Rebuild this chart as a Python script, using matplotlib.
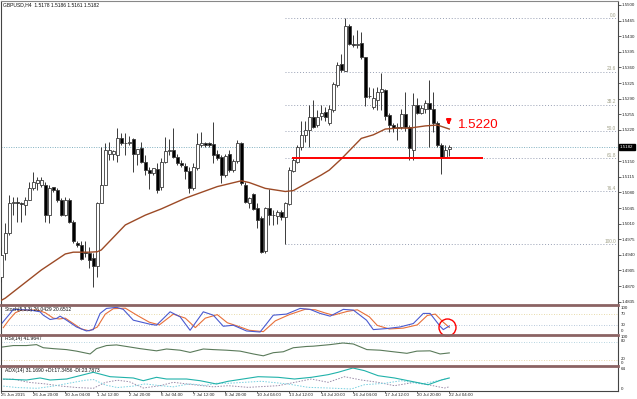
import matplotlib
matplotlib.use("Agg")
import matplotlib.pyplot as plt
from matplotlib.lines import Line2D
from matplotlib.patches import Ellipse
from matplotlib.transforms import blended_transform_factory

plt.rcParams['font.family'] = ['Liberation Sans', 'DejaVu Sans']

W, H = 637, 399

# GBPUSD H4 candles, bar 1 = 25 Jun 12:00 ... bar 113 = 22 Jul 04:00
bar_open = [1.4891, 1.4944, 1.4988, 1.5056, 1.5059, 1.5056, 1.5052, 1.5063, 1.5089, 1.5102,
            1.5097, 1.5097, 1.5029, 1.5091, 1.5085, 1.5063, 1.5029, 1.5063, 1.5014, 1.4967,
            1.4961, 1.4947, 1.4944, 1.4932, 1.4916, 1.5056, 1.5097, 1.5167, 1.5167, 1.5164,
            1.5203, 1.5190, 1.5190, 1.5199, 1.5166, 1.5180, 1.5149, 1.5130, 1.5124, 1.5132,
            1.5091, 1.5149, 1.5173, 1.5176, 1.5160, 1.5146, 1.5140, 1.5127, 1.5089, 1.5134,
            1.5187, 1.5191, 1.5191, 1.5188, 1.5165, 1.5159, 1.5119, 1.5166, 1.5130, 1.5150,
            1.5191, 1.5097, 1.5056, 1.5076, 1.5044, 1.5022, 1.4949, 1.5044, 1.5029, 1.5027,
            1.5035, 1.5024, 1.5055, 1.5129, 1.5149, 1.5182, 1.5209, 1.5220, 1.5250, 1.5231,
            1.5251, 1.5261, 1.5236, 1.5265, 1.5321, 1.5368, 1.5353, 1.5453, 1.5412, 1.5411,
            1.5414, 1.5384, 1.5297, 1.5272, 1.5288, 1.5306, 1.5309, 1.5253, 1.5231, 1.5224,
            1.5226, 1.5256, 1.5227, 1.5176, 1.5276, 1.5257, 1.5266, 1.5281, 1.5267, 1.5236,
            1.5186, 1.5160, 1.5178]
bar_high = [1.4958, 1.5011, 1.5074, 1.5070, 1.5070, 1.5059, 1.5070, 1.5104, 1.5126, 1.5115,
            1.5115, 1.5104, 1.5097, 1.5093, 1.5089, 1.5067, 1.5070, 1.5067, 1.5018, 1.4970,
            1.4970, 1.4970, 1.4958, 1.4944, 1.5059, 1.5182, 1.5190, 1.5194, 1.5175, 1.5224,
            1.5212, 1.5212, 1.5206, 1.5203, 1.5177, 1.5194, 1.5164, 1.5136, 1.5134, 1.5145,
            1.5156, 1.5205, 1.5199, 1.5224, 1.5167, 1.5153, 1.5145, 1.5138, 1.5145, 1.5212,
            1.5216, 1.5193, 1.5194, 1.5238, 1.5175, 1.5164, 1.5165, 1.5175, 1.5154, 1.5197,
            1.5194, 1.5104, 1.5070, 1.5078, 1.5056, 1.5026, 1.5047, 1.5087, 1.5041, 1.5041,
            1.5041, 1.5059, 1.5138, 1.5160, 1.5186, 1.5239, 1.5239, 1.5276, 1.5287, 1.5265,
            1.5276, 1.5272, 1.5276, 1.5328, 1.5373, 1.5391, 1.5470, 1.5457, 1.5433, 1.5444,
            1.5440, 1.5384, 1.5317, 1.5313, 1.5317, 1.5348, 1.5311, 1.5257, 1.5236, 1.5235,
            1.5266, 1.5306, 1.5231, 1.5302, 1.5291, 1.5276, 1.5288, 1.5333, 1.5306, 1.5239,
            1.5191, 1.5186, 1.5186]
bar_low = [1.4880, 1.4929, 1.4985, 1.5029, 1.5014, 1.5014, 1.5029, 1.5063, 1.5085, 1.5085,
           1.5093, 1.5014, 1.5011, 1.5080, 1.5059, 1.5026, 1.5026, 1.5011, 1.4967, 1.4958,
           1.4929, 1.4936, 1.4910, 1.4869, 1.4891, 1.5056, 1.5097, 1.5153, 1.5153, 1.5149,
           1.5187, 1.5164, 1.5187, 1.5126, 1.5141, 1.5145, 1.5119, 1.5087, 1.5119, 1.5078,
           1.5085, 1.5145, 1.5164, 1.5156, 1.5141, 1.5137, 1.5109, 1.5078, 1.5085, 1.5130,
           1.5182, 1.5182, 1.5182, 1.5145, 1.5153, 1.5100, 1.5115, 1.5126, 1.5126, 1.5145,
           1.5097, 1.5056, 1.5044, 1.5041, 1.5000, 1.4945, 1.4945, 1.5007, 1.5007, 1.5009,
           1.5018, 1.4964, 1.5052, 1.5126, 1.5146, 1.5175, 1.5194, 1.5182, 1.5224, 1.5227,
           1.5242, 1.5239, 1.5231, 1.5261, 1.5317, 1.5350, 1.5352, 1.5410, 1.5406, 1.5403,
           1.5380, 1.5274, 1.5291, 1.5266, 1.5265, 1.5265, 1.5242, 1.5216, 1.5216, 1.5197,
           1.5221, 1.5218, 1.5152, 1.5152, 1.5256, 1.5256, 1.5257, 1.5181, 1.5216, 1.5182,
           1.5121, 1.5156, 1.5161]
bar_close = [1.4940, 1.4988, 1.5056, 1.5059, 1.5056, 1.5054, 1.5063, 1.5089, 1.5104, 1.5108,
             1.5108, 1.5029, 1.5089, 1.5085, 1.5063, 1.5029, 1.5063, 1.5014, 1.4970, 1.4961,
             1.4930, 1.4944, 1.4929, 1.4916, 1.5056, 1.5097, 1.5175, 1.5175, 1.5172, 1.5203,
             1.5190, 1.5190, 1.5192, 1.5166, 1.5177, 1.5149, 1.5130, 1.5124, 1.5134, 1.5085,
             1.5149, 1.5173, 1.5175, 1.5160, 1.5145, 1.5141, 1.5128, 1.5089, 1.5138, 1.5188,
             1.5190, 1.5186, 1.5186, 1.5164, 1.5158, 1.5119, 1.5162, 1.5130, 1.5151, 1.5191,
             1.5100, 1.5059, 1.5067, 1.5042, 1.5018, 1.4947, 1.5044, 1.5029, 1.5029, 1.5035,
             1.5024, 1.5056, 1.5130, 1.5152, 1.5182, 1.5209, 1.5220, 1.5250, 1.5227, 1.5250,
             1.5257, 1.5250, 1.5266, 1.5323, 1.5365, 1.5354, 1.5453, 1.5412, 1.5411, 1.5412,
             1.5384, 1.5294, 1.5296, 1.5291, 1.5306, 1.5311, 1.5251, 1.5231, 1.5224, 1.5227,
             1.5256, 1.5226, 1.5179, 1.5276, 1.5257, 1.5269, 1.5281, 1.5266, 1.5236, 1.5186,
             1.5160, 1.5175, 1.5182]

# moving average (bar position, price)
ma_bar = [1, 2, 11, 17, 19, 23, 25, 26, 32, 37, 41, 47, 55, 61, 63, 67, 72, 74, 78, 81,
          83, 86, 91, 94, 97, 100, 103, 107, 110, 113]
ma_val = [1.4838, 1.4843, 1.4906, 1.4942, 1.4946, 1.4946, 1.4947, 1.4951, 1.5007, 1.5029,
          1.5043, 1.5067, 1.5093, 1.5106, 1.5102, 1.5089, 1.5082, 1.5084, 1.5104, 1.5119,
          1.5130, 1.5155, 1.5201, 1.5209, 1.5222, 1.5224, 1.5224, 1.5229, 1.5231, 1.5222]

fib_names = ["0.0", "23.6", "38.2", "50.0", "61.8", "76.4", "100.0"]
fib_pct = [0.0, 23.6, 38.2, 50.0, 61.8, 76.4, 100.0]
fib_top, fib_bottom, fib_start = 1.5470, 1.4964, 72

support_price, support_from, support_to = 1.5157, 73.7, 121.4
target_text, target_price, target_bar = "1.5220", 1.5231, 115.2
bid_price = 1.5182
price_ticks = [1.4835, 1.4870, 1.4905, 1.4940, 1.4975, 1.5010, 1.5045, 1.5080, 1.5115, 1.5150,
               1.5185, 1.5220, 1.5255, 1.5290, 1.5325, 1.5360, 1.5395, 1.5430, 1.5465, 1.5500]

# Stochastic
st_main_bar = [1.1, 3.2, 4, 8.2, 10.7, 11.5, 13.2, 14.8, 15.7, 17.3, 19.8, 22.3, 24, 25.7, 27.3,
               29.8, 31.5, 34, 38.2, 39.8, 43.2, 45.7, 48.2, 51.5, 54, 56.5, 59, 62.3, 65.7, 69,
               72.3, 75.7, 78.2, 80.7, 83.2, 86.5, 89, 92.3, 94, 97.3, 100.7, 104, 106.5, 108.2,
               110.7, 111.5, 113]
st_main_val = [35, 72.5, 87.5, 85, 78.5, 66, 50, 53.8, 62.4, 47.5, 22.4, 7.5, 12.6, 72.5, 91,
               95, 87.5, 47.5, 32.5, 28.8, 78.5, 60, 10, 78.5, 66, 25, 28.8, 7.5, 3.7, 66,
               70, 91, 87.5, 72.5, 62.4, 87.5, 85, 47.5, 12.6, 16.4, 22.4, 35, 72.5, 72.5,
               25, 12.6, 26.0]
st_sig_bar = [1.5, 3, 4.5, 6, 10, 12, 14, 15.5, 17, 19, 21, 23, 25, 27, 29, 32, 35, 38, 40.5, 44,
              47, 49.5, 52, 55, 57.5, 60, 63, 66.5, 69.5, 73, 77, 79.5, 82, 84, 87.5, 90, 93, 95,
              98, 101.5, 105, 107.5, 109.5, 111.5, 113]
st_sig_val = [20, 50, 75, 85, 85, 75, 55, 52, 55, 35, 15, 8, 22, 70, 90, 92, 65, 40, 30, 70,
              55, 20, 55, 68, 38, 26, 10, 5, 45, 68, 88, 86, 74, 66, 80, 86, 60, 28,
              15, 18, 30, 65, 70, 40, 20.65]

# RSI(14)
rsi_bar = [1.1, 4, 7.3, 9.8, 11.5, 14, 17.3, 19.8, 23.2, 24.8, 27.3, 29.8, 32.3, 35.7, 39.8,
           42.3, 45.7, 48.2, 51.5, 54, 57.3, 60.7, 64, 66.5, 69, 71.5, 74, 77.3, 79, 83.2,
           86.4, 89, 92.4, 95.7, 99, 102.4, 104.9, 108.2, 110.7, 113]
rsi_val = [61.3, 66.5, 66.5, 69.6, 59.2, 56.2, 53, 47.9, 38.5, 56.2, 66.5, 68.6, 63.4, 56.2, 48.9,
           55, 51, 43.7, 55, 53, 51, 47.9, 38.5, 32.3, 42.7, 45.8, 59.2, 63.4, 64.4, 69.6,
           75, 71.7, 53, 51, 45.8, 40.6, 47.9, 48.9, 38.5, 41.96]

# ADX(14)
adx_bar = [1.5, 7.3, 10.7, 13.2, 17.3, 24, 28.2, 34, 36.5, 39.8, 42.3, 47.3, 50.7, 54.8, 57.7,
           65.2, 70.2, 74.3, 78.5, 82.7, 85.2, 88.9, 91.8, 95.2, 99.3, 102.7, 107.7, 111, 113]
adx_val = [31.3, 28.6, 34.1, 28.6, 31.3, 49.6, 37.6, 34.1, 26.7, 35.9, 31.3, 31.3, 26.7, 17.7, 25.1,
           37.6, 35.9, 31.3, 35.9, 43.1, 49.6, 61.3, 54, 40.3, 34.1, 26.7, 15.8, 28.6, 34.1]
pdi_bar = [1.5, 4, 8, 12, 16, 20, 24, 27, 30, 33, 36.5, 40.7, 44, 49, 54, 57.7, 62.7, 70.2,
           78.5, 82.7, 86.8, 91, 95.2, 99.3, 104.3, 107.7, 111.8, 113]
pdi_val = [30, 31, 22, 18, 12, 8, 6, 22, 28, 24, 6.8, 13.1, 22.3, 15.8, 10, 13.1, 8.6, 13.1,
           31.3, 22.3, 37.6, 28.6, 22.3, 13.1, 22.3, 15.8, 6.8, 10]
mdi_bar = [1.5, 5, 10, 14, 18, 22, 24, 27, 30, 34, 37, 40, 44, 48, 52, 55, 57.7, 66, 72.7,
           77.7, 82.7, 88.5, 91.8, 96.8, 101, 106, 111, 113]
mdi_val = [12, 8, 6, 12, 20, 28, 30, 15, 8, 12, 18, 14, 10, 18, 14, 20, 19.6, 25.1, 17.7,
           8.6, 6.8, 4.1, 15.8, 19.6, 26.7, 17.7, 28.6, 34.1]

time_bars = [1, 9, 17, 25, 33, 41, 49, 57, 65, 73, 81, 89, 97, 105, 113]
time_labels = ["25 Jun 2015", "26 Jun 20:00", "30 Jun 04:00", "1 Jul 12:00", "2 Jul 20:00",
               "6 Jul 04:00", "7 Jul 12:00", "8 Jul 20:00", "10 Jul 04:00", "13 Jul 12:00",
               "14 Jul 20:00", "16 Jul 04:00", "17 Jul 12:00", "20 Jul 20:00", "22 Jul 04:00"]


def rect(x0, y0, x1, y1):
    return [x0 / W, 1 - y1 / H, (x1 - x0) / W, (y1 - y0) / H]


X0, X1 = 1, 618
fig = plt.figure(figsize=(W / 100, H / 100), dpi=100)
ax = fig.add_axes(rect(X0, 1, X1, 304))
ax_st = fig.add_axes(rect(X0, 306, X1, 333), sharex=ax)
ax_rsi = fig.add_axes(rect(X0, 335.5, X1, 365.5), sharex=ax)
ax_adx = fig.add_axes(rect(X0, 367, X1, 390.5), sharex=ax)

ax.set_xlim(0.925, 155.175)
ax.set_ylim(1.482985, 1.550896)

# candles
bars = list(range(1, len(bar_open) + 1))
ax.vlines(bars, bar_low, bar_high, color='#3a3a3a', lw=0.7, zorder=3)
body_h = [max(abs(c - o), 0.00002) for o, c in zip(bar_open, bar_close)]
body_b = [min(o, c) for o, c in zip(bar_open, bar_close)]
body_c = ['white' if c >= o else 'black' for o, c in zip(bar_open, bar_close)]
ax.bar(bars, body_h, bottom=body_b, width=0.62, color=body_c, edgecolor='#3a3a3a',
       linewidth=0.6, zorder=4)

ax.plot(ma_bar, ma_val, color='#9c4a26', lw=1.0, zorder=5)

# fibo
fib_prices = [fib_top - (fib_top - fib_bottom) * p / 100 for p in fib_pct]
ax.hlines(fib_prices, fib_start, 154.9, colors='#98a0b4', lw=0.7,
          linestyles=(0, (1, 2)), zorder=2)
for name, p in zip(fib_names, fib_prices):
    ax.text(154.7, p + 0.00008, name, ha='right', va='bottom', fontsize=3.4, color='#a0a088')

ax.axhline(bid_price, color='#80b0c0', lw=0.7, ls=(0, (1, 1.5)), zorder=2)
ax.hlines(support_price, support_from, support_to, color='red', lw=1.4, zorder=6)
ax.annotate('', xy=(112.85, 1.5225), xytext=(112.85, 1.5245),
            arrowprops=dict(arrowstyle='-|>', color='red', lw=1.6, mutation_scale=6), zorder=7)
ax.text(target_bar, target_price, target_text, color='red', fontsize=9.5, va='center', ha='left')

# right price scale; the level under the bid box is covered in the original
ax.yaxis.tick_right()
ax.set_yticks(price_ticks, labels=['' if p == 1.5185 else f'{p:.4f}' for p in price_ticks])
ax.tick_params(axis='y', labelsize=3.2, length=2, width=0.5, pad=0.8, colors='#222222')
bt = blended_transform_factory(ax.transAxes, ax.transData)
ax.text(1.003, bid_price, f'{bid_price:.4f}', transform=bt, fontsize=3.2, color='white',
        va='center', ha='left', clip_on=False, zorder=10,
        bbox=dict(boxstyle='square,pad=0.3', fc='black', ec='black'))
fig.text(3 / W, 1 - 5 / H, 'GBPUSD,H4  1.5178 1.5186 1.5161 1.5182', fontsize=3.6,
         va='center', ha='left', color='#111111')

# stochastic
ax_st.set_ylim(0, 100)
ax_st.axhline(70, color='#e0d090', lw=0.6, ls=(0, (1, 2)))
ax_st.axhline(30, color='#a0b8d0', lw=0.6, ls=(0, (1, 2)))
ax_st.plot(st_sig_bar, st_sig_val, color='#e8703a', lw=0.8)
ax_st.plot(st_main_bar, st_main_val, color='#4a5ad0', lw=0.8)
ax_st.text(0.007, 0.97, 'Stoch(5,3,3) 26.0429 20.6512', transform=ax_st.transAxes,
           fontsize=3.6, va='top', ha='left', color='#111111')

# rsi
ax_rsi.set_ylim(0, 100)
ax_rsi.axhline(80, color='#a0c8d8', lw=0.6, ls=(0, (1, 2)))
ax_rsi.axhline(20, color='#e0d090', lw=0.6, ls=(0, (1, 2)))
ax_rsi.plot(rsi_bar, rsi_val, color='#5a7a5a', lw=0.8)
ax_rsi.text(0.007, 0.97, 'RSI(14) 41.9647', transform=ax_rsi.transAxes,
            fontsize=3.6, va='top', ha='left', color='#111111')

# adx
ax_adx.set_ylim(0, 64)
ax_adx.plot(pdi_bar, pdi_val, color='#9a8aa8', lw=0.7, ls=(0, (1.5, 1.5)))
ax_adx.plot(mdi_bar, mdi_val, color='#78d0e0', lw=0.7, ls=(0, (1.5, 1.5)))
ax_adx.plot(adx_bar, adx_val, color='#20b2aa', lw=0.8)
ax_adx.text(0.007, 0.95, 'ADX(14) 31.1690 +DI:17.3456 -DI:23.7873', transform=ax_adx.transAxes,
            fontsize=3.6, va='top', ha='left', color='#111111')

# right-side scale texts of the sub windows
for a, marks in ((ax_st, [(100, 'top'), (70, 'center'), (30, 'center'), (0, 'bottom')]),
                 (ax_rsi, [(100, 'top'), (80, 'center'), (20, 'center'), (0, 'bottom')]),
                 (ax_adx, [(64, 'top'), (0, 'bottom')])):
    tr = blended_transform_factory(a.transAxes, a.transData)
    for v, va in marks:
        a.text(1.005, v, str(v), transform=tr, fontsize=3.2, va=va, ha='left',
               color='#222222', clip_on=False)

# frames
for a in (ax, ax_st, ax_rsi, ax_adx):
    a.set_facecolor('white')
    for s in a.spines.values():
        s.set_color('#444444')
        s.set_linewidth(0.8)
    a.spines['top'].set_visible(False)
    a.spines['bottom'].set_visible(False)
    a.tick_params(axis='x', bottom=False, labelbottom=False)
for a in (ax_st, ax_rsi, ax_adx):
    a.set_yticks([])
ax.spines['top'].set_visible(True)
ax.spines['top'].set_color('#888888')
ax_adx.spines['bottom'].set_visible(True)

ax_adx.set_xticks(time_bars, labels=time_labels)
ax_adx.tick_params(axis='x', bottom=True, labelbottom=True, labelsize=3.2, length=1.6,
                   width=0.5, pad=0.2, colors='#222222')
for lbl in ax_adx.get_xticklabels():
    lbl.set_ha('left')

# sub window separators
for ys in (304.8, 334.6, 366.2):
    fig.add_artist(Line2D([X0 / W, X1 / W], [1 - ys / H] * 2, color='#8b6363', lw=2.0))

# red circle on the stochastic
fig.add_artist(Ellipse((447.5 / W, 1 - 327.5 / H), 17 / W, 17 / H, transform=fig.transFigure,
                       fill=False, ec='red', lw=1.0))

fig.savefig('out.png', dpi=100, facecolor='white')
